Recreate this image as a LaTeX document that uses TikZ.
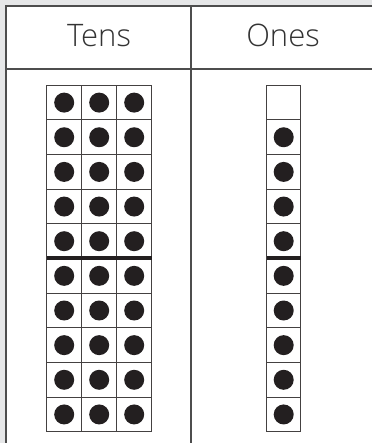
\documentclass[tikz,border=0pt]{standalone}
\usepackage{fontspec}
\setmainfont{Open Sans}[UprightFont=* Light]
\definecolor{bggray}{HTML}{E6E7E8}
\definecolor{linegray}{HTML}{4D4D4D}
\definecolor{ink}{HTML}{231F20}
\definecolor{txt}{HTML}{333333}
\begin{document}
\begin{tikzpicture}[x=1pt,y=-1pt,
  cellbox/.style={draw=ink!85, line width=1.1pt},
  dot/.style={fill=ink, draw=none},
  tableline/.style={draw=linegray, line width=1.3pt},
  heading/.style={font=\fontsize{31}{31}\selectfont, text=txt, inner sep=0pt, anchor=base}]
\useasboundingbox (0,0) rectangle (372,443);
\fill[bggray] (0,0) rectangle (372,443);
\fill[white] (6,6) rectangle (372,443);
\draw[tableline] (372,6) -- (6,6) -- (6,443);
\draw[tableline] (6,69) -- (372,69);
\draw[tableline] (191,6) -- (191,443);
\node[heading] (tens) at (99,47) {Tens};
\node[heading] (ones) at (283,47) {Ones};
% tens frames
\foreach \c in {0,1,2}{
  \foreach \r in {0,...,9}{
    \pgfmathsetmacro{\xl}{46.7+35*\c}
    \pgfmathsetmacro{\yt}{85.3+34.65*\r}
    \draw[cellbox] (\xl,\yt) rectangle ++(35,34.65);
    \fill[dot] (\xl+17.5,\yt+17.3) circle (10);
  }
}
\draw[ink, line width=4pt] (46.7,258.4) -- (151.7,258.4);
% ones frame
\foreach \r in {0,...,9}{
  \pgfmathsetmacro{\yt}{85.3+34.65*\r}
  \draw[cellbox] (266.7,\yt) rectangle ++(34,34.65);
}
\foreach \r in {1,...,9}{
  \pgfmathsetmacro{\yt}{85.3+34.65*\r}
  \fill[dot] (283.7,\yt+17.3) circle (10);
}
\draw[ink, line width=4pt] (266.7,258.4) -- (300.7,258.4);
\end{tikzpicture}
\end{document}
